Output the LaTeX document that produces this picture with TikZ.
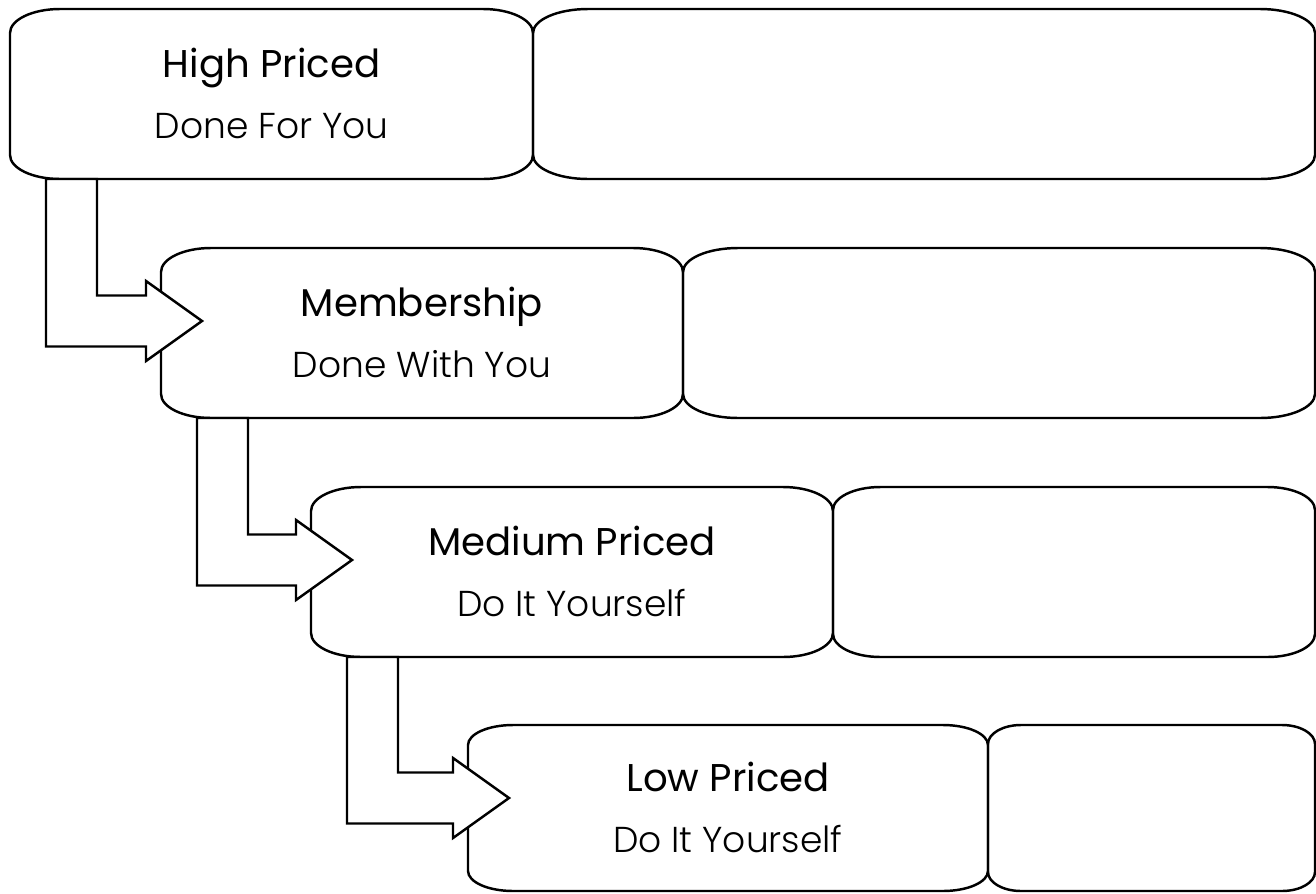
\documentclass[tikz,border=0pt]{standalone}
\usepackage{fontspec}
\setmainfont{Poppins}
\newfontfamily\headfont{Poppins}
\newfontfamily\subfont{Poppins Light}
\usepackage{tikz}
\usetikzlibrary{calc}

\tikzset{
  card/.style={rectangle,draw=none,inner sep=0pt,outer sep=0pt,minimum height=3.4cm},
  cardhead/.style={anchor=base,font=\headfont\fontsize{22}{26}\selectfont},
  cardsub/.style={anchor=base,font=\subfont\fontsize{20.5}{24}\selectfont},
  outline/.style={line width=1.4pt},
  bentarrow/.style={line width=1.4pt,fill=white,line join=miter}
}

% box with elliptic corners: node, x radius, y radius
\newcommand{\roundcard}[3]{%
  \draw[outline] ([xshift=#2]#1.north west) -- ([xshift=-#2]#1.north east)
    arc[start angle=90,end angle=0,x radius=#2,y radius=#3]
    -- ([yshift=#3]#1.south east)
    arc[start angle=0,end angle=-90,x radius=#2,y radius=#3]
    -- ([xshift=#2]#1.south west)
    arc[start angle=270,end angle=180,x radius=#2,y radius=#3]
    -- ([yshift=-#3]#1.north west)
    arc[start angle=180,end angle=90,x radius=#2,y radius=#3] -- cycle;}

\begin{document}
\begin{tikzpicture}
\useasboundingbox (0,0) rectangle (26.32,-17.86);

\node[card,minimum width=10.46cm] (high) at (5.43,-1.88) {};
\node[card,minimum width=15.64cm,anchor=west] (highnote) at (high.east) {};
\node[card,minimum width=10.44cm] (member) at (8.44,-6.66) {};
\node[card,minimum width=12.64cm,anchor=west] (membernote) at (member.east) {};
\node[card,minimum width=10.44cm] (medium) at (11.44,-11.44) {};
\node[card,minimum width=9.64cm,anchor=west] (mediumnote) at (medium.east) {};
\node[card,minimum width=10.4cm,minimum height=3.32cm] (low) at (14.56,-16.16) {};
\node[card,minimum width=6.54cm,minimum height=3.32cm,anchor=west] (lownote) at (low.east) {};

\roundcard{high}{1cm}{0.48cm}
\roundcard{highnote}{1.1cm}{0.48cm}
\roundcard{member}{1cm}{0.48cm}
\roundcard{membernote}{1.1cm}{0.48cm}
\roundcard{medium}{1cm}{0.48cm}
\roundcard{mediumnote}{0.95cm}{0.46cm}
\roundcard{low}{0.9cm}{0.4cm}
\roundcard{lownote}{0.66cm}{0.38cm}

\node[cardhead] (hight) at ([yshift=0.34cm]high.center) {High Priced};
\node[cardsub] (highs) at ([yshift=-0.88cm]high.center) {Done For You};
\node[cardhead] (membert) at ([yshift=0.34cm]member.center) {Membership};
\node[cardsub] (members) at ([yshift=-0.88cm]member.center) {Done With You};
\node[cardhead] (mediumt) at ([yshift=0.34cm]medium.center) {Medium Priced};
\node[cardsub] (mediums) at ([yshift=-0.88cm]medium.center) {Do It Yourself};
\node[cardhead] (lowt) at ([yshift=0.34cm]low.center) {Low Priced};
\node[cardsub] (lows) at ([yshift=-0.88cm]low.center) {Do It Yourself};

% step arrows between the price levels
\foreach \src/\dst in {high/member,member/medium,medium/low}
  \draw[bentarrow] let \p1=(\src.south west), \p2=(\dst.north west) in
    (\x1+1.74cm,\y1) -- (\x1+1.74cm,\y2-0.95cm) -- (\x2-0.3cm,\y2-0.95cm)
    -- (\x2-0.3cm,\y2-0.66cm) -- (\x2+0.82cm,\y2-1.46cm) -- (\x2-0.3cm,\y2-2.26cm)
    -- (\x2-0.3cm,\y2-1.97cm) -- (\x1+0.72cm,\y2-1.97cm) -- (\x1+0.72cm,\y1) -- cycle;
\end{tikzpicture}
\end{document}
